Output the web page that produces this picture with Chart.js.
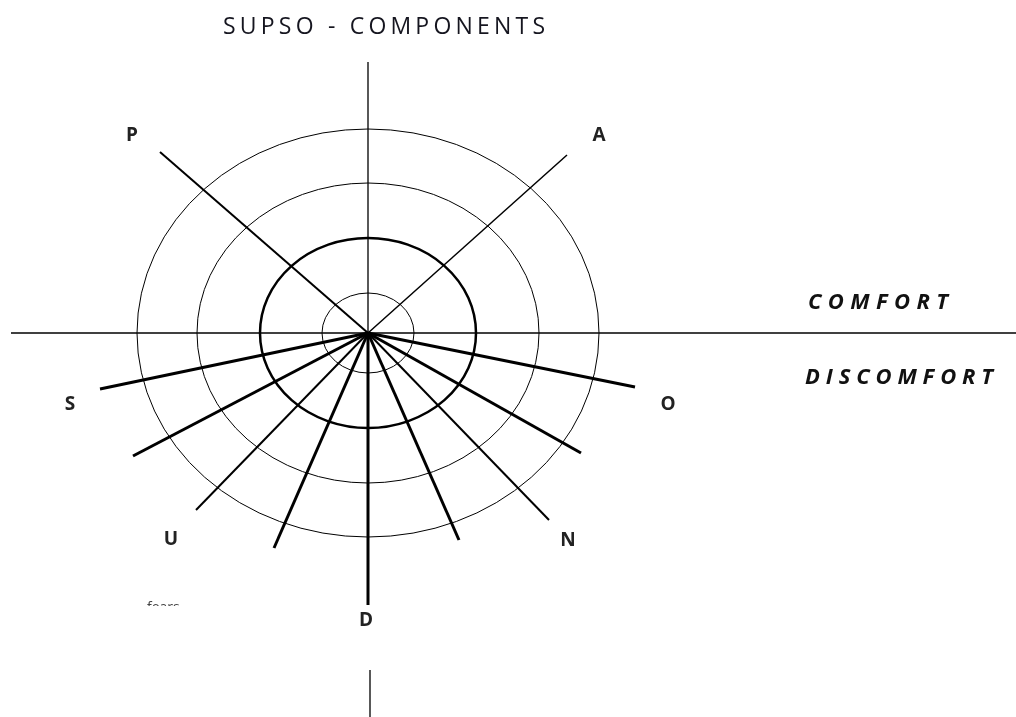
<!DOCTYPE html>
<html>
<head>
<meta charset="utf-8">
<script src="https://cdn.jsdelivr.net/npm/chart.js@4.4.1/dist/chart.umd.min.js"></script>
<style>
  html, body { margin: 0; padding: 0; background: #fff; }
  #wrap { width: 1016px; height: 717px; }
</style>
</head>
<body>
<div id="wrap"><canvas id="c" width="1016" height="717"></canvas></div>
<script>
// ---- Data (coordinates relative to the diagram centre, y up) ----
const spokeNames = ['P', 'A', 'S', 'O', 'S2', 'O2', 'U', 'N', 'U2', 'N2', 'D'];
const spokeEndX  = [-208, 199, -268, 267, -235, 213, -172, 181, -94, 91, 0];
const spokeEndY  = [ 181, 178,  -56, -54, -123, -120, -177, -187, -215, -207, -272];
const spokeWidth = [2, 1.5, 3, 3, 3, 3, 2, 2, 3, 3, 3];

const ringRadiusX = [46, 108, 171, 231];
const ringRadiusY = [40, 95, 150, 204];
const ringWidth   = [1, 2.5, 1, 1];

const axisLinesX = [[-357, 648], [0, 0], [2, 2]];
const axisLinesY = [[0, 0], [271, 0], [-337, -384]];

const pointLabels  = ['P', 'A', 'S', 'O', 'U', 'N', 'D'];
const pointLabelX  = [-236, 231, -298, 300, -197, 200, -2];
const pointLabelY  = [ 197, 197,  -72,  -72, -207, -208, -288];

const titleText = 'SUPSO - COMPONENTS';
const zoneLabels = ['COMFORT', 'DISCOMFORT'];
const zoneLabelX = [440, 437];
const zoneLabelY = [30, -45];
const zoneLabelW = [140, 188];
const noteText = 'fears';

// ---- Datasets ----
const datasets = [];
axisLinesX.forEach((xs, i) => {
  datasets.push({
    data: [{x: xs[0], y: axisLinesY[i][0]}, {x: xs[1], y: axisLinesY[i][1]}],
    showLine: true, borderColor: '#000', borderWidth: 1.3, pointRadius: 0
  });
});
spokeNames.forEach((n, i) => {
  datasets.push({
    label: n,
    data: [{x: 0, y: 0}, {x: spokeEndX[i], y: spokeEndY[i]}],
    showLine: true, borderColor: '#000', borderWidth: spokeWidth[i], pointRadius: 0,
    borderCapStyle: 'butt'
  });
});

function fitText(ctx, text, x, y, targetWidth, align) {
  const base = ctx.measureText(text).width;
  const n = text.length;
  const sp = n > 1 ? (targetWidth - base) / (n - 1) : 0;
  let cx = align === 'center' ? x - targetWidth / 2 : x;
  for (const ch of text) {
    ctx.fillText(ch, cx, y);
    cx += ctx.measureText(ch).width + sp;
  }
}

const diagramPlugin = {
  id: 'diagram',
  beforeDatasetsDraw(chart) {
    const {ctx, scales: {x, y}} = chart;
    const cx = x.getPixelForValue(0), cy = y.getPixelForValue(0);
    ctx.save();
    ctx.strokeStyle = '#000';
    ringRadiusX.forEach((rx, i) => {
      const px = x.getPixelForValue(rx) - cx;
      const py = cy - y.getPixelForValue(ringRadiusY[i]);
      ctx.beginPath();
      ctx.lineWidth = ringWidth[i];
      ctx.ellipse(cx, cy, px, py, 0, 0, Math.PI * 2);
      ctx.stroke();
    });
    ctx.restore();
  },
  afterDatasetsDraw(chart) {
    const {ctx, scales: {x, y}} = chart;
    ctx.save();
    ctx.textBaseline = 'middle';
    // title
    ctx.fillStyle = '#15151f';
    ctx.font = '23px "Open Sans", sans-serif';
    ctx.textAlign = 'left';
    fitText(ctx, titleText, x.getPixelForValue(16), y.getPixelForValue(306), 322, 'center');
    // spoke letters
    ctx.fillStyle = '#222';
    ctx.font = 'bold 19px "Open Sans", sans-serif';
    ctx.textAlign = 'center';
    pointLabels.forEach((t, i) => {
      ctx.fillText(t, x.getPixelForValue(pointLabelX[i]), y.getPixelForValue(pointLabelY[i]));
    });
    // comfort / discomfort
    ctx.textAlign = 'left';
    ctx.fillStyle = '#111';
    ctx.font = 'italic bold 22px "Open Sans", sans-serif';
    zoneLabels.forEach((t, i) => {
      fitText(ctx, t, x.getPixelForValue(zoneLabelX[i]), y.getPixelForValue(zoneLabelY[i]), zoneLabelW[i], 'left');
    });
    // clipped note
    const clipY = y.getPixelForValue(-273);
    ctx.beginPath();
    ctx.rect(0, 0, chart.width, clipY);
    ctx.clip();
    ctx.fillStyle = '#444';
    ctx.font = '14px "Open Sans", sans-serif';
    ctx.textBaseline = 'alphabetic';
    ctx.fillText(noteText, x.getPixelForValue(-221), y.getPixelForValue(-279));
    ctx.restore();
  }
};

new Chart(document.getElementById('c'), {
  type: 'scatter',
  data: { datasets },
  options: {
    responsive: false,
    animation: false,
    events: [],
    layout: { padding: 0 },
    plugins: { legend: { display: false }, tooltip: { enabled: false }, title: { display: false } },
    scales: {
      x: { type: 'linear', min: -368, max: 648, display: false },
      y: { type: 'linear', min: -384, max: 333, display: false }
    }
  },
  plugins: [diagramPlugin]
});
</script>
</body>
</html>
